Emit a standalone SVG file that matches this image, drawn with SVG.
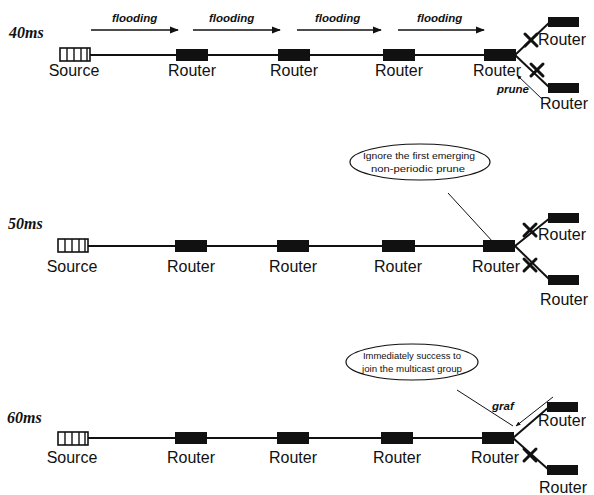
<svg xmlns="http://www.w3.org/2000/svg" width="594" height="495" viewBox="0 0 594 495">
<defs>
<style>
.bg{fill:#fff}
.lbl{font-family:"Liberation Sans",Arial,sans-serif;font-size:16px;fill:#111}
.time{font-family:"Liberation Serif","Times New Roman",serif;font-size:16px;font-weight:bold;font-style:italic;fill:#111}
.msg{font-family:"Liberation Sans",Arial,sans-serif;font-size:11.5px;font-style:italic;font-weight:bold;fill:#111}
.note{font-family:"Liberation Sans",Arial,sans-serif;font-size:9px;fill:#111}
.rt{fill:#111}
.src{fill:#fff;stroke:#111;stroke-width:1.6}
.div{stroke:#111;stroke-width:1.4}
.link{stroke:#111;stroke-width:2;fill:none}
.thin{stroke:#111;stroke-width:1;fill:none}
.arr{stroke:#111;stroke-width:1.5;fill:none;marker-end:url(#ah)}
.x{stroke:#111;stroke-width:3;stroke-linecap:round}
.ell{fill:#fff;stroke:#111;stroke-width:1.2}
</style>
<marker id="ah" viewBox="0 0 10 10" refX="9" refY="5" markerWidth="6" markerHeight="6" orient="auto">
<path d="M0,1 L10,5 L0,9 z" fill="#111"/>
</marker>
<marker id="ahs" viewBox="0 0 10 10" refX="9" refY="5" markerWidth="5" markerHeight="5" orient="auto">
<path d="M0,1 L10,5 L0,9 z" fill="#111"/>
</marker>
<g id="srcbox">
<rect class="src" x="0" y="0" width="30" height="13"/>
<line class="div" x1="7" y1="0" x2="7" y2="13"/>
<line class="div" x1="14" y1="0" x2="14" y2="13"/>
<line class="div" x1="21" y1="0" x2="21" y2="13"/>
<line class="div" x1="27" y1="0" x2="27" y2="13"/>
</g>
</defs>
<rect class="bg" x="0" y="0" width="594" height="495"/>

<!-- ===== Section 40ms ===== -->
<text class="time" x="9" y="38">40ms</text>
<g id="connectors-40">
<line class="link" x1="90" y1="55" x2="484" y2="55"/>
<line class="link" x1="515" y1="55" x2="550" y2="22"/>
<line class="link" x1="515" y1="55" x2="550" y2="88"/>
<line class="arr" x1="91" y1="30" x2="178" y2="30"/>
<line class="arr" x1="193" y1="30" x2="280" y2="30"/>
<line class="arr" x1="297" y1="30" x2="381" y2="30"/>
<line class="arr" x1="398" y1="30" x2="484" y2="30"/>
<line class="thin" x1="542" y1="99" x2="517" y2="75" stroke-width="1.8" marker-end="url(#ahs)"/>
<line class="x" x1="525" y1="34" x2="537" y2="46"/>
<line class="x" x1="537" y1="34" x2="525" y2="46"/>
<line class="x" x1="531" y1="64" x2="543" y2="76"/>
<line class="x" x1="543" y1="64" x2="531" y2="76"/>
<text class="msg" x="112" y="22">flooding</text>
<text class="msg" x="209" y="22">flooding</text>
<text class="msg" x="315" y="22">flooding</text>
<text class="msg" x="417" y="22">flooding</text>
<text class="msg" x="497" y="93" font-size="10">prune</text>
</g>
<g id="s40-source"><use href="#srcbox" x="60" y="48"/><text class="lbl" x="74" y="76" text-anchor="middle">Source</text></g>
<g id="s40-r1"><rect class="rt" x="176" y="49" width="32" height="12"/><text class="lbl" x="192" y="76" text-anchor="middle">Router</text></g>
<g id="s40-r2"><rect class="rt" x="278" y="49" width="32" height="12"/><text class="lbl" x="294" y="76" text-anchor="middle">Router</text></g>
<g id="s40-r3"><rect class="rt" x="383" y="49" width="32" height="12"/><text class="lbl" x="399" y="76" text-anchor="middle">Router</text></g>
<g id="s40-r4"><rect class="rt" x="484" y="49" width="32" height="12"/><text class="lbl" x="497" y="76" text-anchor="middle">Router</text></g>
<g id="s40-up"><rect class="rt" x="548" y="17" width="31" height="10"/><text class="lbl" x="562" y="45" text-anchor="middle">Router</text></g>
<g id="s40-dn"><rect class="rt" x="548" y="83" width="31" height="10"/><text class="lbl" x="564" y="109" text-anchor="middle">Router</text></g>

<!-- ===== Section 50ms ===== -->
<text class="time" x="8" y="229">50ms</text>
<g id="connectors-50">
<line class="link" x1="88" y1="246" x2="484" y2="246"/>
<line class="link" x1="515" y1="246" x2="550" y2="218"/>
<line class="link" x1="515" y1="246" x2="550" y2="280"/>
<line class="thin" x1="448" y1="193" x2="493" y2="242"/>
<line class="x" x1="524" y1="224" x2="536" y2="236"/>
<line class="x" x1="536" y1="224" x2="524" y2="236"/>
<line class="x" x1="524" y1="259" x2="536" y2="271"/>
<line class="x" x1="536" y1="259" x2="524" y2="271"/>
</g>
<g id="s50-note"><ellipse class="ell" cx="420" cy="162" rx="70" ry="18"/>
<text class="note" x="363" y="159" textLength="112" lengthAdjust="spacingAndGlyphs">Ignore the first emerging</text>
<text class="note" x="371" y="172" textLength="94" lengthAdjust="spacingAndGlyphs">non-periodic prune</text></g>
<g id="s50-source"><use href="#srcbox" x="58" y="239"/><text class="lbl" x="72" y="272" text-anchor="middle">Source</text></g>
<g id="s50-r1"><rect class="rt" x="175" y="240" width="32" height="12"/><text class="lbl" x="191" y="272" text-anchor="middle">Router</text></g>
<g id="s50-r2"><rect class="rt" x="277" y="240" width="32" height="12"/><text class="lbl" x="293" y="272" text-anchor="middle">Router</text></g>
<g id="s50-r3"><rect class="rt" x="382" y="240" width="33" height="12"/><text class="lbl" x="398" y="272" text-anchor="middle">Router</text></g>
<g id="s50-r4"><rect class="rt" x="483" y="240" width="32" height="12"/><text class="lbl" x="496" y="272" text-anchor="middle">Router</text></g>
<g id="s50-up"><rect class="rt" x="548" y="213" width="31" height="10"/><text class="lbl" x="562" y="240" text-anchor="middle">Router</text></g>
<g id="s50-dn"><rect class="rt" x="548" y="275" width="31" height="10"/><text class="lbl" x="564" y="305" text-anchor="middle">Router</text></g>

<!-- ===== Section 60ms ===== -->
<text class="time" x="7" y="423">60ms</text>
<g id="connectors-60">
<line class="link" x1="88" y1="438" x2="482" y2="438"/>
<line class="link" x1="513" y1="438" x2="549" y2="407"/>
<line class="link" x1="513" y1="438" x2="549" y2="470"/>
<line class="thin" x1="457" y1="390" x2="513" y2="426"/>
<line class="thin" x1="553" y1="397" x2="516" y2="426" stroke-width="1.8" marker-end="url(#ahs)"/>
<line class="x" x1="524" y1="449" x2="536" y2="461"/>
<line class="x" x1="536" y1="449" x2="524" y2="461"/>
<text class="msg" x="492" y="410" font-size="10">graf</text>
</g>
<g id="s60-note"><ellipse class="ell" cx="412" cy="362" rx="66" ry="18"/>
<text class="note" x="412" y="359" text-anchor="middle" textLength="98" lengthAdjust="spacingAndGlyphs">Immediately success to</text>
<text class="note" x="412" y="372" text-anchor="middle" textLength="100" lengthAdjust="spacingAndGlyphs">join the multicast group</text></g>
<g id="s60-source"><use href="#srcbox" x="58" y="432"/><text class="lbl" x="72" y="463" text-anchor="middle">Source</text></g>
<g id="s60-r1"><rect class="rt" x="175" y="432" width="32" height="12"/><text class="lbl" x="191" y="463" text-anchor="middle">Router</text></g>
<g id="s60-r2"><rect class="rt" x="277" y="432" width="32" height="12"/><text class="lbl" x="293" y="463" text-anchor="middle">Router</text></g>
<g id="s60-r3"><rect class="rt" x="381" y="432" width="32" height="12"/><text class="lbl" x="397" y="463" text-anchor="middle">Router</text></g>
<g id="s60-r4"><rect class="rt" x="482" y="432" width="32" height="12"/><text class="lbl" x="495" y="463" text-anchor="middle">Router</text></g>
<g id="s60-up"><rect class="rt" x="547" y="402" width="31" height="10"/><text class="lbl" x="562" y="426" text-anchor="middle">Router</text></g>
<g id="s60-dn"><rect class="rt" x="547" y="465" width="31" height="10"/><text class="lbl" x="563" y="493" text-anchor="middle">Router</text></g>
</svg>
